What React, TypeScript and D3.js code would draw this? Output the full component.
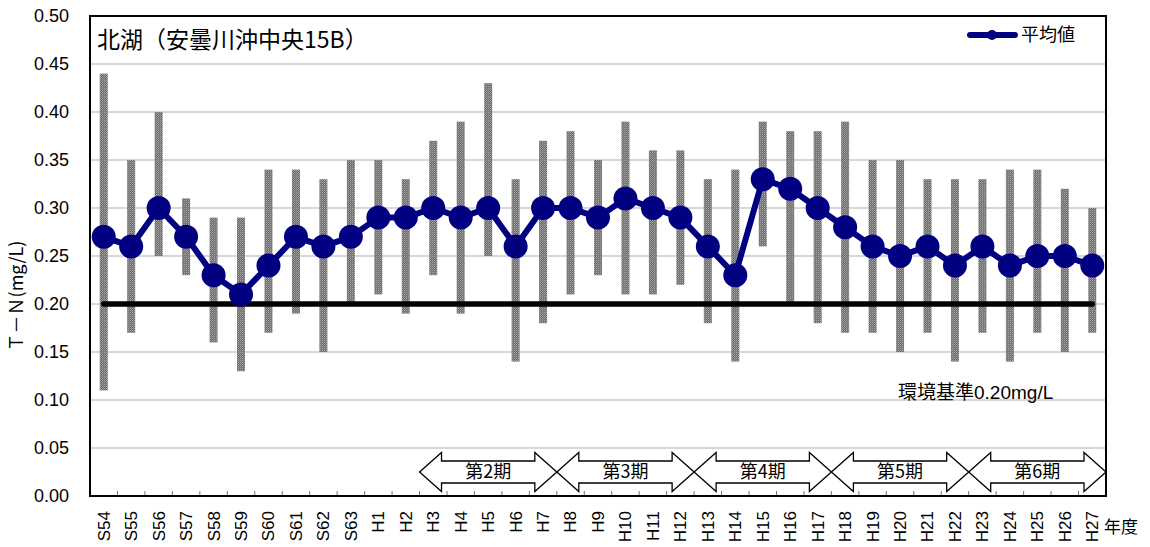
import React from 'react';
import * as d3 from 'd3';

const years = [
  'S54', 'S55', 'S56', 'S57', 'S58', 'S59', 'S60', 'S61', 'S62', 'S63',
  'H1', 'H2', 'H3', 'H4', 'H5', 'H6', 'H7', 'H8', 'H9', 'H10', 'H11', 'H12',
  'H13', 'H14', 'H15', 'H16', 'H17', 'H18', 'H19', 'H20', 'H21', 'H22',
  'H23', 'H24', 'H25', 'H26', 'H27',
];
const meanValues = [
  0.27, 0.26, 0.30, 0.27, 0.23, 0.21, 0.24, 0.27, 0.26, 0.27,
  0.29, 0.29, 0.30, 0.29, 0.30, 0.26, 0.30, 0.30, 0.29, 0.31, 0.30, 0.29,
  0.26, 0.23, 0.33, 0.32, 0.30, 0.28, 0.26, 0.25, 0.26, 0.24,
  0.26, 0.24, 0.25, 0.25, 0.24,
];
const maxValues = [
  0.44, 0.35, 0.40, 0.31, 0.29, 0.29, 0.34, 0.34, 0.33, 0.35,
  0.35, 0.33, 0.37, 0.39, 0.43, 0.33, 0.37, 0.38, 0.35, 0.39, 0.36, 0.36,
  0.33, 0.34, 0.39, 0.38, 0.38, 0.39, 0.35, 0.35, 0.33, 0.33,
  0.33, 0.34, 0.34, 0.32, 0.30,
];
const minValues = [
  0.11, 0.17, 0.25, 0.23, 0.16, 0.13, 0.17, 0.19, 0.15, 0.20,
  0.21, 0.19, 0.23, 0.19, 0.25, 0.14, 0.18, 0.21, 0.23, 0.21, 0.21, 0.22,
  0.18, 0.14, 0.26, 0.20, 0.18, 0.17, 0.17, 0.15, 0.17, 0.14,
  0.17, 0.14, 0.17, 0.15, 0.17,
];
const yTicks = [0, 0.05, 0.1, 0.15, 0.2, 0.25, 0.3, 0.35, 0.4, 0.45, 0.5];
const standardValue = 0.2;
const periods = [
  { label: '第2期', from: 'H3', to: 'H7' },
  { label: '第3期', from: 'H8', to: 'H12' },
  { label: '第4期', from: 'H13', to: 'H17' },
  { label: '第5期', from: 'H18', to: 'H22' },
  { label: '第6期', from: 'H23', to: 'H27' },
];

const FONT = '"Liberation Sans", Arial, "Noto Sans CJK JP", sans-serif';
const JP = '"Noto Sans CJK JP", "Liberation Sans", sans-serif';

const App = () => {
  const width = 1150;
  const height = 547;
  const plot = { left: 90, right: 1106, top: 16, bottom: 496 };

  const x = d3.scaleBand().domain(years).range([plot.left, plot.right]);
  const y = d3.scaleLinear().domain([0, 0.5]).range([plot.bottom, plot.top]);
  const cx = (d) => x(d) + x.bandwidth() / 2;

  const meanLine = d3.line()
    .x((d, i) => cx(years[i]))
    .y((d) => y(d));

  // double-headed period arrow
  const arrowPath = (x0, x1, yc) => {
    const head = 22;
    const hh = 19.5;
    const sh = 11;
    return [
      [x0, yc], [x0 + head, yc - hh], [x0 + head, yc - sh], [x1 - head, yc - sh],
      [x1 - head, yc - hh], [x1, yc], [x1 - head, yc + hh], [x1 - head, yc + sh],
      [x0 + head, yc + sh], [x0 + head, yc + hh],
    ].map((p) => p.join(',')).join(' ');
  };

  return (
    <svg width={width} height={height} style={{ position: 'absolute', left: 0, top: 0, background: '#fff' }}>
      <defs>
        <pattern id="dots" width="2" height="2" patternUnits="userSpaceOnUse">
          <rect width="2" height="2" fill="#6c6c6c" />
          <rect width="1" height="1" fill="#a8a8a8" />
          <rect x="1" y="1" width="1" height="1" fill="#8a8a8a" />
        </pattern>
      </defs>

      {yTicks.filter((t) => t > 0 && t < 0.5).map((t) => (
        <line key={t} x1={plot.left} x2={plot.right} y1={y(t)} y2={y(t)} stroke="#b0b0b0" strokeWidth={1.2} />
      ))}

      {yTicks.map((t) => (
        <text key={t} x={69} y={y(t)} dy="0.35em" textAnchor="end" fontFamily={FONT} fontSize={18} fill="#000">
          {t.toFixed(2)}
        </text>
      ))}

      <text transform="translate(23,296) rotate(-90)" textAnchor="middle" fontFamily={JP} fontSize={18}>
        Ｔ－Ｎ(mg/L)
      </text>

      {years.map((yr, i) => (
        <rect key={yr} x={cx(yr) - 4} width={8} y={y(maxValues[i])} height={y(minValues[i]) - y(maxValues[i])} fill="url(#dots)" />
      ))}

      <line x1={cx(years[0])} x2={cx(years[years.length - 1])} y1={y(standardValue)} y2={y(standardValue)}
        stroke="#000" strokeWidth={5.5} strokeLinecap="round" />

      <path d={meanLine(meanValues)} fill="none" stroke="#000080" strokeWidth={6} strokeLinejoin="round" />
      {years.map((yr, i) => (
        <circle key={yr} cx={cx(yr)} cy={y(meanValues[i])} r={12} fill="#000080" />
      ))}

      {periods.map((p) => {
        const x0 = x(p.from);
        const x1 = x(p.to) + x.bandwidth();
        return (
          <g key={p.label}>
            <polygon points={arrowPath(x0, x1, 472)} fill="#fff" stroke="#000" strokeWidth={1.3} />
            <text x={(x0 + x1) / 2} y={472} dy="0.36em" textAnchor="middle" fontFamily={JP} fontSize={18}>{p.label}</text>
          </g>
        );
      })}

      {years.slice(1).map((yr) => (
        <line key={yr} x1={x(yr)} x2={x(yr)} y1={plot.bottom - 5} y2={plot.bottom} stroke="#777" strokeWidth={1} />
      ))}

      <rect x={plot.left} y={plot.top} width={plot.right - plot.left} height={plot.bottom - plot.top}
        fill="none" stroke="#000" strokeWidth={2} />

      {years.map((yr) => (
        <text key={yr} transform={`translate(${cx(yr)},${plot.bottom + 15}) rotate(-90)`} dy="0.35em"
          textAnchor="end" fontFamily={FONT} fontSize={17}>
          {yr}
        </text>
      ))}
      <text x={1104} y={527} dy="0.36em" fontFamily={JP} fontSize={17}>年度</text>

      <text x={97} y={48} fontFamily={JP} fontSize={23}>北湖（安曇川沖中央15B）</text>

      <line x1={970} x2={1015} y1={35} y2={35} stroke="#000080" strokeWidth={6} strokeLinecap="round" />
      <circle cx={992} cy={35} r={5} fill="#000080" />
      <text x={1021} y={35} dy="0.36em" fontFamily={JP} fontSize={18}>平均値</text>

      <text x={898} y={392} dy="0.36em" fontFamily={JP} fontSize={19}>
        環境基準<tspan fontFamily={FONT}>0.20mg/L</tspan>
      </text>
    </svg>
  );
};

export default App;
